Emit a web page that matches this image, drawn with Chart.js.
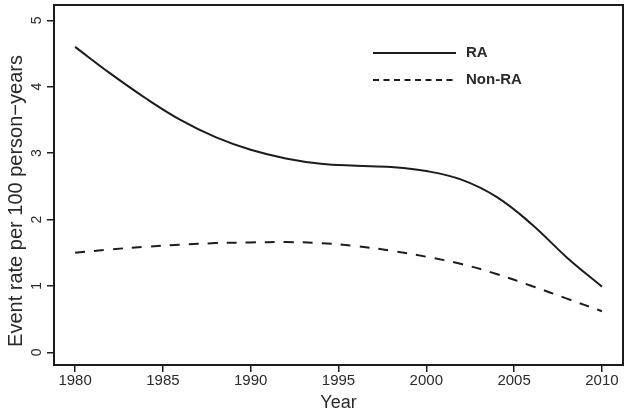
<!DOCTYPE html>
<html><head><meta charset="utf-8">
<script src="https://cdn.jsdelivr.net/npm/chart.js@4/dist/chart.umd.min.js"></script>
<style>html,body{margin:0;padding:0;background:#fff}#wrap{width:630px;height:414px}</style>
</head><body><div id="wrap"><canvas id="c" width="630" height="414"></canvas></div>
<script>
const years = [1980,1982,1984,1986,1988,1990,1992,1994,1996,1998,2000,2002,2004,2006,2008,2010];
const raRate = [4.60,4.20,3.83,3.50,3.24,3.05,2.92,2.84,2.81,2.79,2.73,2.60,2.34,1.93,1.43,0.99];
const nonRaRate = [1.50,1.55,1.59,1.62,1.645,1.655,1.66,1.645,1.60,1.53,1.44,1.33,1.18,1.00,0.81,0.62];
const xTicks = [1980,1985,1990,1995,2000,2005,2010];
const yTicks = [0,1,2,3,4,5];
const seriesNames = ['RA','Non-RA'];
const xTitle = 'Year';
const yTitle = 'Event rate per 100 person\u2212years';

const ink = '#1c1c1c';
const textCol = '#2a2a2a';
const FONT = '"Liberation Sans", Arial, Helvetica, sans-serif';

const toXY = (vals) => years.map((y, i) => ({x: y, y: vals[i]}));

const decor = {
  id: 'decor',
  afterDraw(chart) {
    const ctx = chart.ctx;
    const a = chart.chartArea;
    const ys = chart.scales.y;
    ctx.save();
    // frame
    ctx.strokeStyle = ink;
    ctx.lineWidth = 2;
    ctx.strokeRect(a.left, a.top, a.right - a.left, a.bottom - a.top);
    // y tick labels (rotated)
    ctx.fillStyle = textCol;
    ctx.font = '14px ' + FONT;
    ctx.textAlign = 'center';
    ctx.textBaseline = 'middle';
    yTicks.forEach(v => {
      const py = ys.getPixelForValue(v);
      ctx.save();
      ctx.translate(37, py);
      ctx.rotate(-Math.PI / 2);
      ctx.fillText(String(v), 0, 0);
      ctx.restore();
    });
    // y title
    ctx.font = '20px ' + FONT;
    ctx.save();
    ctx.translate(16, 201);
    ctx.rotate(-Math.PI / 2);
    ctx.fillText(yTitle, 0, 0);
    ctx.restore();
    // x title
    ctx.font = '18px ' + FONT;
    ctx.fillText(xTitle, (a.left + a.right) / 2, 403);
    // legend
    const ly = [53, 80];
    const ldash = [[], [6, 4.5]];
    chart.data.datasets.forEach((ds, i) => {
      ctx.strokeStyle = ds.borderColor;
      ctx.lineWidth = ds.borderWidth;
      ctx.setLineDash(ldash[i]);
      ctx.beginPath();
      ctx.moveTo(373, ly[i]);
      ctx.lineTo(456, ly[i]);
      ctx.stroke();
      ctx.setLineDash([]);
      ctx.fillStyle = textCol;
      ctx.font = 'bold 15px ' + FONT;
      ctx.textAlign = 'left';
      ctx.fillText(ds.label, 466, ly[i]);
    });
    ctx.restore();
  }
};

new Chart(document.getElementById('c'), {
  type: 'line',
  data: {
    datasets: [
      {label: seriesNames[0], data: toXY(raRate), borderColor: ink, borderWidth: 2, pointRadius: 0, tension: 0.4, fill: false},
      {label: seriesNames[1], data: toXY(nonRaRate), borderColor: ink, borderWidth: 2, borderDash: [10, 9], pointRadius: 0, tension: 0.4, fill: false}
    ]
  },
  options: {
    responsive: false,
    animation: false,
    devicePixelRatio: 1,
    layout: {padding: {left: 0, right: 7, top: 5, bottom: 0}},
    plugins: {legend: {display: false}, tooltip: {enabled: false}},
    scales: {
      x: {
        type: 'linear', min: 1978.8, max: 2011.2,
        afterBuildTicks: s => { s.ticks = xTicks.map(v => ({value: v})); },
        afterFit: s => { s.height = 49; },
        grid: {drawOnChartArea: false, drawTicks: true, tickLength: 7, color: ink, lineWidth: 1.5},
        border: {display: false},
        ticks: {color: textCol, font: {size: 15, family: FONT}, padding: 0, maxRotation: 0, autoSkip: false, callback: v => String(v)}
      },
      y: {
        type: 'linear', min: -0.19, max: 5.23,
        afterBuildTicks: s => { s.ticks = yTicks.map(v => ({value: v})); },
        afterFit: s => { s.width = 54; },
        grid: {drawOnChartArea: false, drawTicks: true, tickLength: 7, color: ink, lineWidth: 1.5},
        border: {display: false},
        ticks: {display: false}
      }
    }
  },
  plugins: [decor]
});
</script>
</body></html>
